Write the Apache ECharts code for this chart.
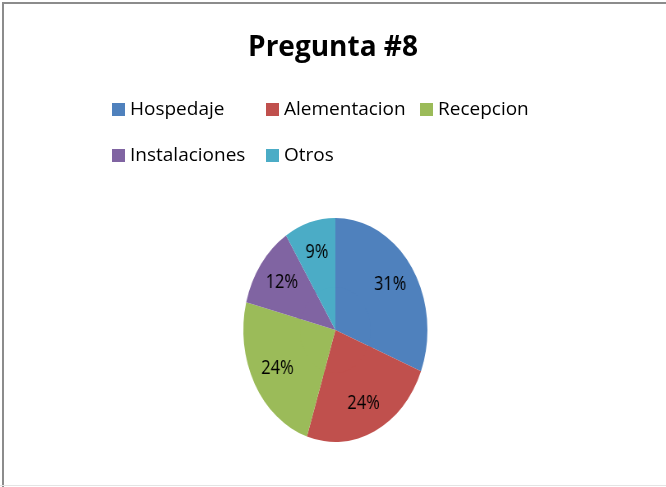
<!DOCTYPE html>
<html>
<head>
<meta charset="utf-8">
<script src="https://cdn.jsdelivr.net/npm/echarts@6/dist/echarts.min.js"></script>
<style>
  html, body { margin: 0; padding: 0; background: #fff; }
  #wrap { position: relative; width: 666px; height: 487px; overflow: hidden; }
  #head { position: absolute; left: 0; top: 0; width: 666px; height: 487px; }
  /* el pie va aparte porque en la imagen esta achatado (elipse) */
  #pie { position: absolute; left: 0; top: 0; width: 812px; height: 487px;
         transform: scaleX(0.822); transform-origin: 0 0; }
  .bt { position: absolute; left: 2px; top: 2px; width: 664px; height: 2px; background: #8c8c8c; }
  .bl { position: absolute; left: 2px; top: 2px; width: 2px; height: 485px; background: #8c8c8c; }
  .bb { position: absolute; left: 0; top: 485px; width: 666px; height: 1px; background: #e4e4e4; }
</style>
</head>
<body>
<div id="wrap">
  <div id="head"></div>
  <div id="pie"></div>
  <div class="bt"></div>
  <div class="bl"></div>
  <div class="bb"></div>
</div>
<script>
// datos
var categorias = ["Hospedaje", "Alementacion", "Recepcion", "Instalaciones", "Otros"];
var valores = [31, 24, 24, 12, 9];
var colores = ["#4F81BD", "#C0504D", "#9BBB59", "#8064A2", "#4BACC6"];

var fuente = "'Open Sans', 'DejaVu Sans', sans-serif";

var datos = categorias.map(function(c, i) {
  return { name: c, value: valores[i] };
});

// posicion de cada leyenda (columnas como en Excel)
var leyendaPos = [
  [112, 100], [266, 100], [420, 100],
  [112, 146], [266, 146]
];

var leyendas = categorias.map(function(c, i) {
  return {
    data: [c],
    left: leyendaPos[i][0],
    top: leyendaPos[i][1],
    padding: 0,
    itemWidth: 13,
    itemHeight: 13,
    icon: "rect",
    selectedMode: false,
    textStyle: { fontFamily: fuente, fontSize: 19, color: "#000" }
  };
});

var head = echarts.init(document.getElementById("head"));
head.setOption({
  animation: false,
  color: colores,
  title: {
    text: "Pregunta #8",
    left: "center",
    top: 29,
    textStyle: { fontFamily: fuente, fontSize: 28, fontWeight: "bold", color: "#000" }
  },
  legend: leyendas,
  series: [{
    type: "pie",
    radius: [0, 0],
    silent: true,
    label: { show: false },
    labelLine: { show: false },
    data: datos
  }]
});

var pie = echarts.init(document.getElementById("pie"));
pie.setOption({
  animation: false,
  color: colores,
  series: [
    {
      // disco interior, solo relleno
      type: "pie",
      center: [408, 330],
      radius: [0, 48],
      startAngle: 90,
      silent: true,
      label: { show: false },
      labelLine: { show: false },
      data: datos
    },
    {
      type: "pie",
      center: [408, 330],
      radius: [43, 112],
      startAngle: 90,
      silent: true,
      label: {
        show: true,
        position: "inside",
        formatter: "{c}%",
        fontFamily: fuente,
        fontSize: 20,
        color: "#000"
      },
      labelLine: { show: false },
      data: datos
    }
  ]
});
</script>
</body>
</html>
